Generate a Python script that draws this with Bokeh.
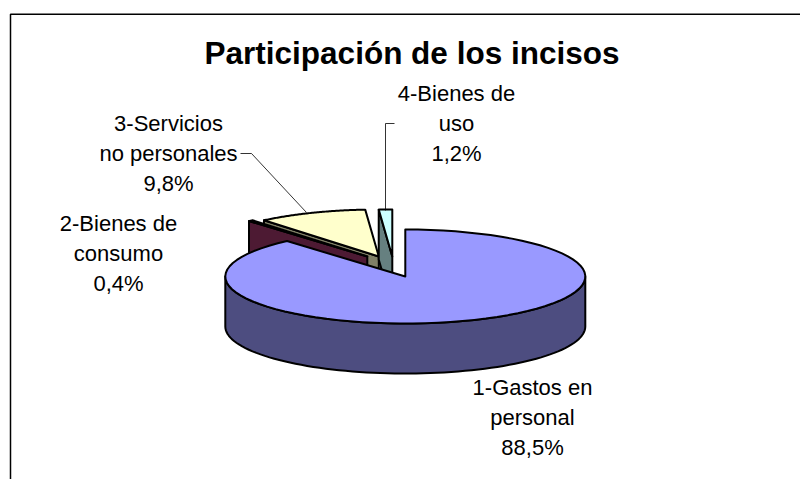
import numpy as np
from bokeh.plotting import figure
from bokeh.models import Range1d
from bokeh.core.properties import value
from bokeh.embed import file_html
from bokeh.resources import INLINE

title = "Participación de los incisos"
shares = [88.5, 0.4, 9.8, 1.2]
labels = [["1-Gastos en", "personal", "88,5%"],
          ["2-Bienes de", "consumo", "0,4%"],
          ["3-Servicios", "no personales", "9,8%"],
          ["4-Bienes de", "uso", "1,2%"]]
top_colors = ["#9999FF", "#993366", "#FFFFCC", "#CCFFFF"]
wall_colors = ["#4D4D80", "#4D1A33", "#808066", "#668080"]

# pie geometry in page pixels (range = page coordinates)
CX, CY, RX, RY, DEPTH = 404.8, 276, 180, 47, 50
offsets = [(0, 0), (-38, -20), (-26.5, -20), (-13, -20)]
label_pos = [(532, 387), (118, 223), (168, 123), (456, 93)]
LINE_H = 30

W, H = 800, 479
p = figure(width=W, height=H, output_backend="svg", toolbar_location=None,
           x_range=Range1d(0, W), y_range=Range1d(H, 0),
           x_axis_type=None, y_axis_type=None, min_border=0)
p.grid.visible = False
p.outline_line_color = None
p.background_fill_color = "white"
p.border_fill_color = "white"

# frame of the chart area (open at the right and bottom, as cropped)
p.line([10, 10, W], [H, 13.8, 13.8], line_color="#000000", line_width=1.5)

edges = np.cumsum([0] + shares) / sum(shares) * 2 * np.pi


def rim(a0, a1, n=80):
    t = np.linspace(a0, a1, n)
    return CX + RX * np.sin(t), CY - RY * np.cos(t)


def slice_top(i):
    x, y = rim(edges[i], edges[i + 1])
    dx, dy = offsets[i]
    return np.r_[CX, x, CX] + dx, np.r_[CY, y, CY] + dy


def radial_wall(i):
    """Face along the starting radius of an exploded slice, extruded downwards."""
    x, y = rim(edges[i], edges[i], 1)
    dx, dy = offsets[i]
    xs = np.array([x[0], CX, CX, x[0]]) + dx
    ys = np.array([y[0], CY, CY + DEPTH, y[0] + DEPTH]) + dy
    return xs, ys


OUT = dict(line_color="#000000", line_width=2, line_join="round")

# exploded slices, back to front; the large slice covers them last
for i in (2, 1, 3):
    xs, ys = radial_wall(i)
    p.patch(xs, ys, fill_color=wall_colors[i], **OUT)
    xs, ys = slice_top(i)
    p.patch(xs, ys, fill_color=top_colors[i], **OUT)

# front wall of the large slice
x, y = rim(np.pi / 2, 3 * np.pi / 2)
p.patch(np.r_[x, x[::-1]], np.r_[y, y[::-1] + DEPTH], fill_color=wall_colors[0], **OUT)
# top of the large slice
xs, ys = slice_top(0)
p.patch(xs, ys, fill_color=top_colors[0], **OUT)

# leader lines
p.line([240, 251, 306], [153, 153, 212], line_color="#000000", line_width=0.8)
p.line([394, 385, 385], [123, 123, 210], line_color="#000000", line_width=0.8)

# texts
p.text([411.5], [52.5], text=[title], text_font=value("Liberation Sans"),
       text_font_size="31.5px", text_font_style="bold", text_color="#000000",
       text_align="center", text_baseline="middle")
for (lx, ly), lines in zip(label_pos, labels):
    p.text([lx] * len(lines), [ly + k * LINE_H for k in range(len(lines))], text=lines,
           text_font=value("Liberation Sans"), text_font_size="22px", text_color="#000000",
           text_align="center", text_baseline="middle")

open("out.html", "w").write(file_html(p, INLINE))
